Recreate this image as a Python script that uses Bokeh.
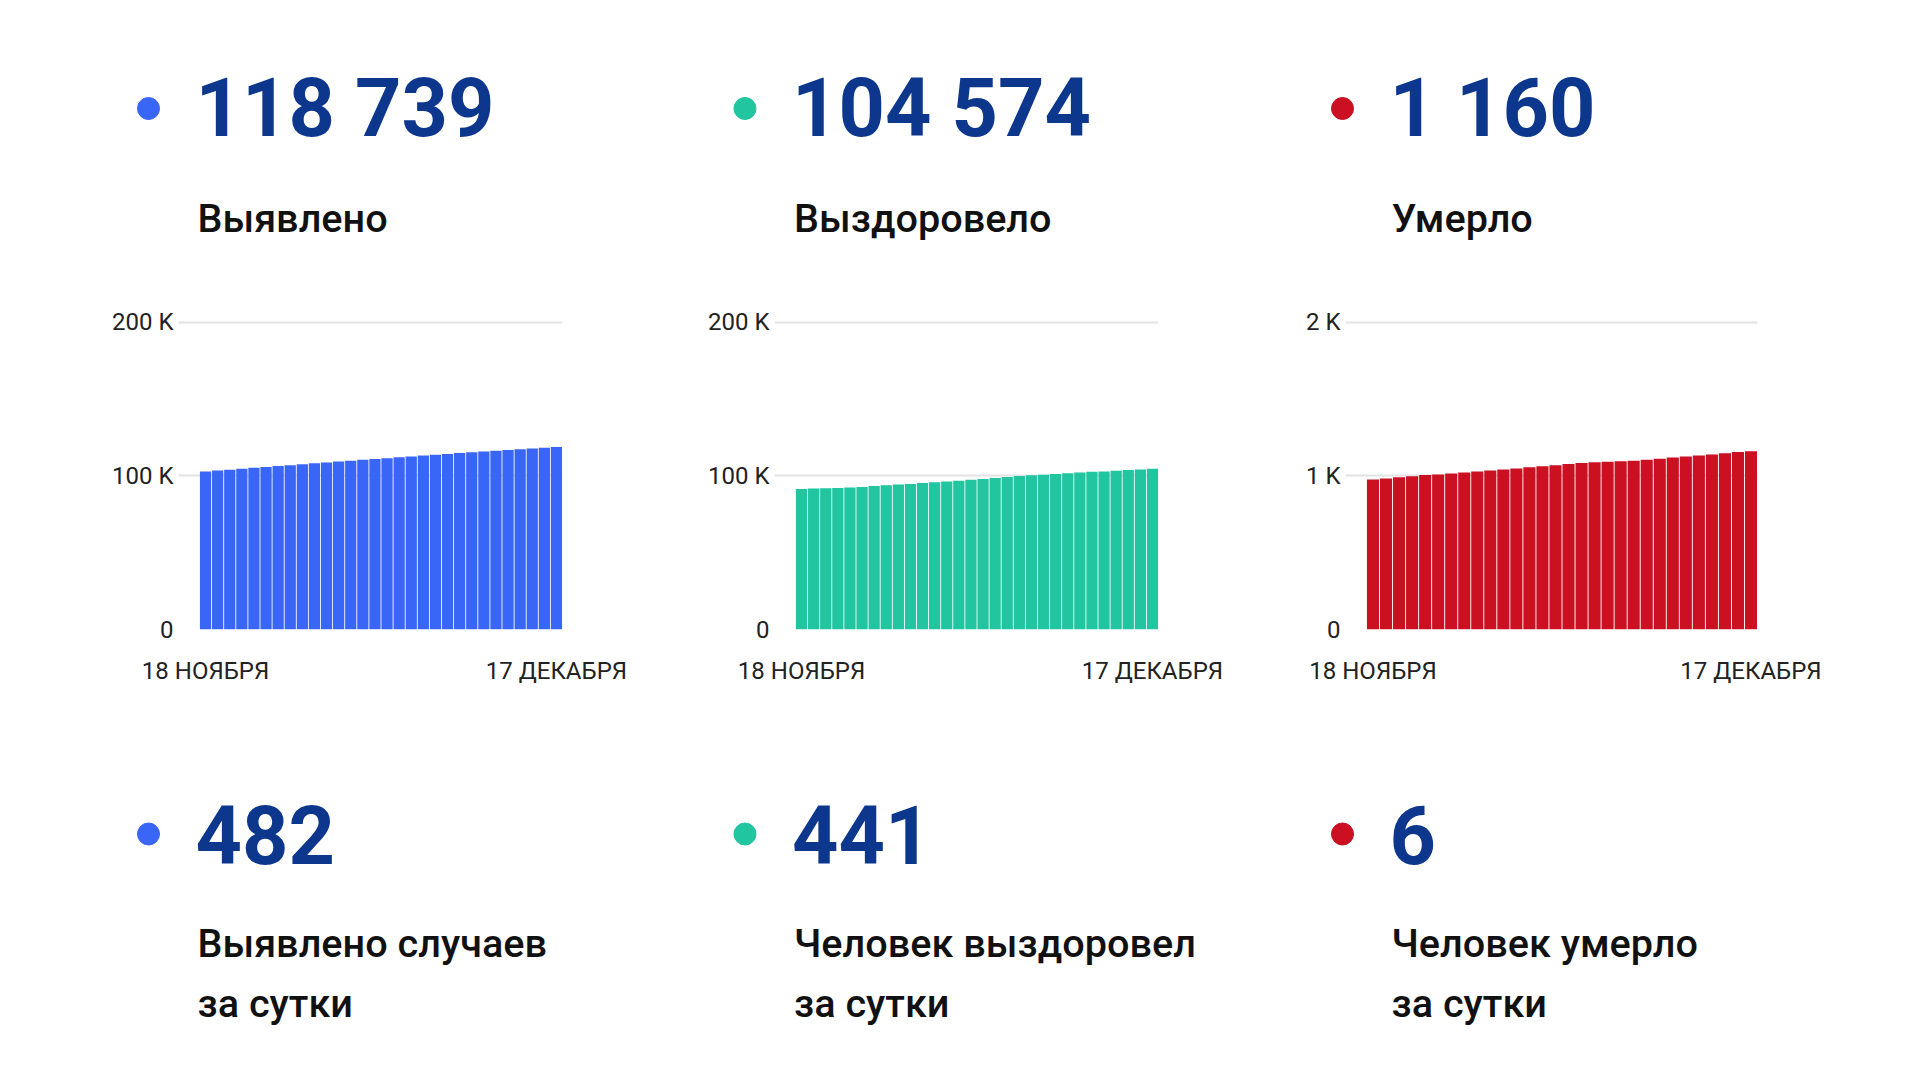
from bokeh.plotting import figure
from bokeh.layouts import column, row
from bokeh.models import Range1d, FixedTicker, ColumnDataSource, Spacer
from bokeh.core.properties import value
from bokeh.embed import file_html
from bokeh.resources import INLINE

# ---------------- data ----------------
day_index = list(range(30))
date_labels = ["18 НОЯБРЯ", "17 ДЕКАБРЯ"]

cases = [102772, 103362, 103972, 104552, 105152, 105772, 106342, 106902, 107502, 108112,
         108702, 109282, 109832, 110392, 110932, 111462, 112022, 112592, 113142, 113662,
         114202, 114732, 115242, 115762, 116262, 116772, 117262, 117762, 118257, 118739]
recovered = [91423, 91643, 91873, 92113, 92363, 92763, 93323, 93793, 94243, 94723,
             95283, 95753, 96313, 96793, 97353, 97953, 98573, 99183, 99783, 100263,
             100733, 101183, 101643, 102083, 102533, 102833, 103253, 103683, 104133, 104574]
deaths = [975, 983, 990, 997, 1005, 1009, 1015, 1021, 1027, 1034,
          1041, 1048, 1055, 1062, 1069, 1076, 1083, 1088, 1091, 1094,
          1098, 1104, 1111, 1119, 1126, 1132, 1139, 1147, 1154, 1160]

totals = ["118 739", "104 574", "1 160"]
total_labels = ["Выявлено", "Выздоровело", "Умерло"]
daily = ["482", "441", "6"]
daily_labels_1 = ["Выявлено случаев", "Человек выздоровел", "Человек умерло"]
daily_labels_2 = ["за сутки", "за сутки", "за сутки"]

y_ticks = [[0, 100000, 200000], [0, 100000, 200000], [0, 1000, 2000]]
y_tick_labels = [["0", "100 K", "200 K"], ["0", "100 K", "200 K"], ["0", "1 K", "2 K"]]

# ---------------- style ----------------
COLORS = ["#3a66f7", "#21c5a0", "#cb1022"]
NAVY = "#0c378d"
TEXT = "#111111"
AXIS_TEXT = "#222222"
GRID = "#e3e3e3"
FONT = "Roboto"
COL_OFF = [0, 596.5, 1194]
NUM_FS = 81
LAB_FS = 39.5
BASE_SHIFT = 0.365  # em offset between requested y and drawn alphabetic baseline


def text_strip(height, y_top, dot_y, num_base, label_rows, labels):
    p = figure(width=1920, height=height, x_range=Range1d(0, 1920),
               y_range=Range1d(y_top + height, y_top), output_backend="svg",
               toolbar_location=None, x_axis_type=None, y_axis_type=None,
               min_border=0, outline_line_color=None)
    p.grid.visible = False
    p.background_fill_color = "white"
    p.border_fill_color = "white"
    dsrc = ColumnDataSource(dict(x=[148 + o for o in COL_OFF], y=[dot_y] * 3, c=COLORS))
    p.scatter("x", "y", size=22, color="c", source=dsrc)
    nsrc = ColumnDataSource(dict(x=[195 + o for o in COL_OFF],
                                 y=[num_base - BASE_SHIFT * NUM_FS] * 3, t=labels[0]))
    p.text("x", "y", text="t", source=nsrc, text_font=value(FONT), text_font_style="bold",
           text_font_size=f"{NUM_FS}px", text_color=NAVY, text_baseline="alphabetic",
           text_align="left")
    for base, lab in zip(label_rows, labels[1:]):
        lsrc = ColumnDataSource(dict(x=[197 + o for o in COL_OFF],
                                     y=[base - BASE_SHIFT * LAB_FS] * 3, t=lab))
        p.text("x", "y", text="t", source=lsrc, text_font=value("Roboto Medium, Roboto"),
               text_font_size=f"{LAB_FS}px", text_color=TEXT, text_baseline="alphabetic",
               text_align="left")
    return p


def make_chart(vals, ticks, tlabels, color, W, left, right):
    fw = W - left - right
    unit = (fw - 21) / 30.0
    xs = -0.5 - 21.0 / unit
    p = figure(width=W, height=410, x_range=Range1d(xs, 29.5),
               y_range=Range1d(0, ticks[-1] * 1.005), output_backend="svg",
               toolbar_location=None,
               min_border_left=left, min_border_right=right, min_border_top=30,
               min_border_bottom=71, outline_line_color=None)
    p.background_fill_color = "white"
    p.border_fill_color = "white"
    src = ColumnDataSource(dict(i=day_index, v=vals))
    p.vbar(x="i", top="v", width=0.93, source=src, fill_color=color, line_color=None)
    p.xgrid.visible = False
    p.ygrid.ticker = FixedTicker(ticks=ticks)
    p.ygrid.grid_line_color = GRID
    p.ygrid.grid_line_width = 2
    ya = p.yaxis[0]
    ya.ticker = FixedTicker(ticks=ticks)
    ya.major_label_overrides = {t: l for t, l in zip(ticks, tlabels)}
    xa = p.xaxis[0]
    xa.ticker = FixedTicker(ticks=[day_index[0], day_index[-1]])
    xa.major_label_overrides = {day_index[0]: date_labels[0], day_index[-1]: date_labels[1]}
    for ax in (xa, ya):
        ax.axis_line_color = None
        ax.major_tick_line_color = None
        ax.minor_tick_line_color = None
        ax.major_tick_in = 0
        ax.major_tick_out = 0
        ax.major_label_text_font = FONT
        ax.major_label_text_font_size = "24px"
        ax.major_label_text_color = AXIS_TEXT
    ya.major_label_standoff = 5
    xa.major_label_standoff = 27
    return p


top = text_strip(290, 0, 108, 137.5, [232], [totals, total_labels])
bottom = text_strip(380, 700, 833.5, 864, [957.5, 1017], [daily, daily_labels_1, daily_labels_2])

c1 = make_chart(cases, y_ticks[0], y_tick_labels[0], COLORS[0], 540, 78, 78)
c2 = make_chart(recovered, y_ticks[1], y_tick_labels[1], COLORS[1], 550, 84, 82)
c3 = make_chart(deaths, y_ticks[2], y_tick_labels[2], COLORS[2], 600, 95, 93)

chart_row = row(Spacer(width=100, height=410), c1, Spacer(width=50, height=410), c2,
                Spacer(width=10, height=410), c3, Spacer(width=70, height=410))
layout = column(top, chart_row, bottom)
open("out.html", "w").write(file_html(layout, INLINE, title="COVID"))
